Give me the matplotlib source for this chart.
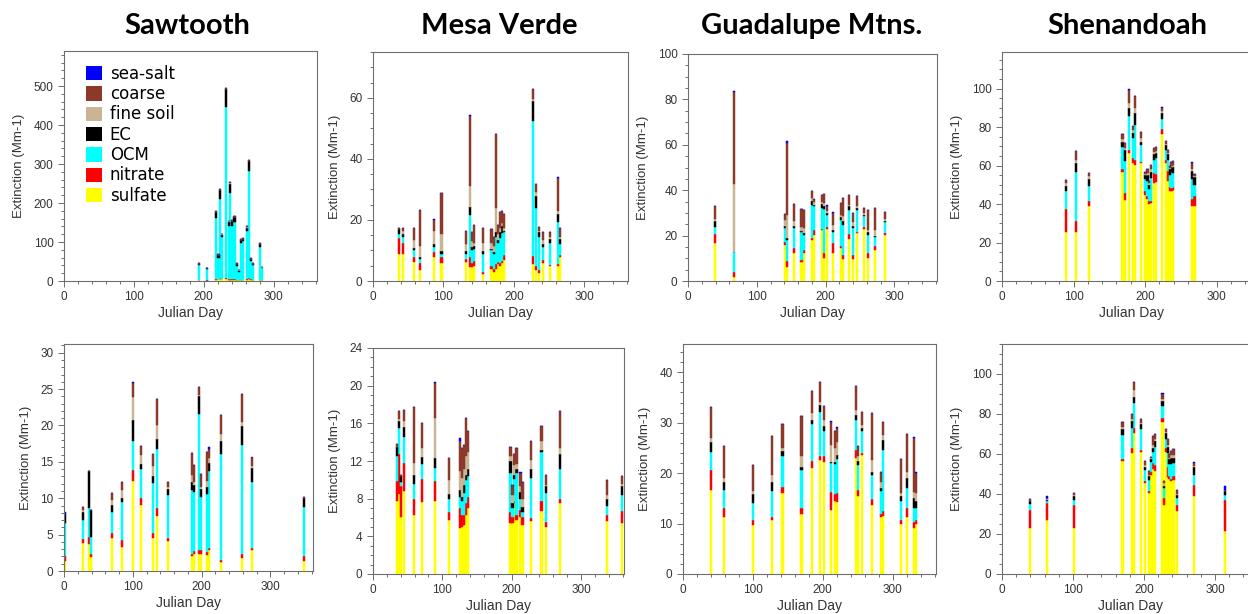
import numpy as np
import matplotlib
matplotlib.use("Agg")
import matplotlib.pyplot as plt
from matplotlib.patches import Patch
from matplotlib.ticker import MultipleLocator

# ---------------- data ----------------
COMPONENTS = ["sulfate", "nitrate", "OCM", "EC", "fine soil", "coarse", "sea-salt"]
COLORS = ["#FFFF00", "#FF0000", "#00FFFF", "#000000", "#C9B596", "#8B3A2A", "#0000FF"]
TITLES = ["Sawtooth", "Mesa Verde", "Guadalupe Mtns.", "Shenandoah"]

# Sawtooth (top row)
ST1_DAY = [193, 205, 217, 221, 223, 226, 232, 235.5, 238, 241, 244, 247, 250, 253, 256, 262, 265, 268, 271, 280, 283]
ST1_SULFATE = [1.5, 1, 3, 4, 6, 4, 5, 3, 3, 3, 3, 2, 2, 2, 2, 3, 5, 3, 2, 2, 1.5]
ST1_NITRATE = [0.5, 0.5, 1, 1, 2, 1, 2, 1, 1, 1, 1, 0.5, 0.5, 1, 1, 1, 2, 1, 0.5, 1, 0.5]
ST1_OCM = [38.5, 29, 157, 53.5, 203, 107.5, 440, 136, 221, 138, 147, 37, 21, 93.5, 98.5, 125, 275, 48.5, 38, 85.5, 30.5]
ST1_EC = [3, 2, 15, 8, 22, 6, 45, 12, 25, 12, 12, 4, 3, 8, 6, 8, 25, 4, 3, 6, 2]
ST1_SOIL = [0.5, 0.5, 1, 1, 1, 1, 1, 1, 1, 1, 1, 0.5, 0.5, 1, 1, 1, 1, 0.5, 0.5, 1, 0.5]
ST1_COARSE = [1, 1, 2, 1.5, 3, 1.5, 3, 2, 3, 2, 2, 1, 1, 1.5, 1.5, 2, 3, 1, 1, 1.5, 1]
ST1_SEASALT = [0] * 21

# Mesa Verde (top row)
MV1_DAY = [36.5, 42.7, 57.8, 66.9, 87.2, 97.2, 131.8, 137.6, 141, 144, 156.5, 168.3, 171.6, 174, 176.9, 179.7, 182.5, 185.4,
           226.6, 230.9, 236.1, 241.8, 250.8, 263.2, 265.5]
MV1_SULFATE = [9, 9, 6.2, 3.7, 7.7, 5.9, 6.2, 4.5, 4.5, 5, 2.4, 4, 3, 4, 5.5, 5, 6, 7, 5.5, 3.5, 2.5, 5.9, 4.8, 4.8, 7.7]
MV1_NITRATE = [5, 3.5, 1.7, 2.2, 1.8, 1.8, 1.1, 3.3, 1.5, 1.5, 0.6, 1, 1, 1.5, 0.8, 1, 0.7, 1.5, 2.6, 1.5, 1, 0.9, 0.3, 0.9, 0.7]
MV1_OCM = [1.5, 1.9, 2.4, 1.4, 1.7, 1.3, 1.7, 13.7, 4, 4, 6, 5, 5, 9, 6, 8, 9, 7.5, 44.3, 19, 11, 4.4, 7.2, 13.7, 3.6]
MV1_EC = [1.5, 1.1, 0.5, 0.6, 0.8, 0.9, 0.9, 2.7, 1, 1, 0.9, 0.5, 0.5, 1.5, 1.2, 2, 2.2, 0.5, 6.7, 4, 1.5, 0.8, 1.3, 2.7, 1.6]
MV1_SOIL = [0, 0.9, 2.6, 3.6, 4.4, 5.6, 2.1, 7, 2, 1, 2.4, 2, 2, 8, 1.8, 1.5, 1, 1, 0.5, 1.2, 0.5, 1.4, 0.8, 0.8, 0.8]
MV1_COARSE = [0.3, 1, 4, 11.7, 3.7, 13.4, 4.5, 23, 3.2, 6, 4.9, 4.5, 3, 24, 3, 5, 4, 4.6, 3.2, 2.5, 1.2, 2.7, 1.7, 10.9, 2.8]
MV1_SEASALT = [0, 0, 0, 0.2, 0.2, 0, 0, 0.3, 0, 0, 0, 0, 0, 0.3, 0, 0.2, 0, 0, 0, 0, 0, 0, 0, 0.2, 0]

# Guadalupe Mtns. (top row)
GM1_DAY = [39.8, 66.5, 141.7, 144.2, 153.9, 165, 168.4, 179.6, 183, 194.2, 197.6, 201.5, 210.7, 221.8, 225.2, 234.5,
           240.3, 246.1, 255.8, 261.2, 271.4, 286]
GM1_SULFATE = [16.7, 1.9, 15.9, 6.3, 12.2, 8.3, 12.2, 18.1, 20.4, 22.6, 10.0, 22.9, 12.2, 14.5, 9.6, 18.4, 9.6, 21.1, 22.9, 10.0, 13.7, 20.4]
GM1_NITRATE = [3.9, 2.2, 1.1, 2.3, 2.3, 1.0, 1.5, 0.8, 2.2, 0.3, 2.2, 1.1, 4.5, 0.7, 1.9, 2.4, 1.9, 0.7, 0.7, 2.2, 1.5, 0.7]
GM1_OCM = [3.4, 8.6, 6.3, 9.5, 8.8, 12.1, 6.7, 14.7, 10.3, 9.3, 19.5, 5.2, 5.1, 11.8, 13.3, 10.6, 11.8, 9.6, 4.9, 8.2, 4.4, 4.7]
GM1_EC = [2.5, 0.2, 1.0, 0.8, 1.0, 0.7, 0.7, 1.8, 0.7, 1.7, 1.2, 0.7, 0.5, 1.0, 1.5, 1.5, 1.0, 0.8, 0.4, 1.0, 0.3, 0.7]
GM1_SOIL = [0.8, 29.8, 2.7, 10.3, 2.0, 1.6, 2.2, 1.2, 1.1, 0.9, 1.5, 0.8, 2.5, 1.2, 2.2, 0.7, 1.5, 0.7, 1.0, 1.2, 2.7, 0.8]
GM1_COARSE = [5.9, 40.5, 2.6, 31.8, 7.8, 8.0, 7.8, 2.9, 1.4, 3.3, 4.1, 2.2, 5.1, 5.2, 8.1, 4.2, 4.1, 4.4, 2.3, 8.8, 9.6, 2.9]
GM1_SEASALT = [0, 0.6, 0, 0.7, 0, 0, 0, 0, 0, 0, 0, 0.4, 0.3, 0, 0, 0, 0.2, 0, 0, 0, 0, 0]

# Shenandoah (top row)
SH1_DAY = [90, 104, 121.2, 168.5, 171.6, 177.2, 183.2, 186.3, 194.4, 200.5, 203.3, 205.8, 208.4, 212.1, 214.9, 223.8,
           229.4, 232.2, 234.6, 236.9, 239.1, 265.7, 269]
SH1_SULFATE = [25.7, 25.7, 39.1, 56.5, 42, 66.6, 61.4, 60.5, 61.4, 44.9, 42.6, 40, 40.5, 51, 51.5, 76.2, 61.4, 52, 47, 47, 47.5, 39.1, 38.8]
SH1_NITRATE = [11.7, 5.3, 2.3, 1.8, 3.8, 1.7, 2.3, 2.6, 0.5, 2, 1.4, 1.8, 1.2, 5, 4, 2.6, 1.7, 5, 2, 1.5, 1.5, 3.5, 5.5]
SH1_OCM = [9.2, 25.7, 7.8, 11.4, 16.5, 17.4, 10.7, 18, 9, 6, 8, 6, 12, 7, 8.5, 5.2, 5.2, 6, 6, 8, 7, 10.4, 5.8]
SH1_EC = [2.6, 4.7, 3.8, 2.6, 5.7, 4.4, 2.5, 6, 1.5, 2, 3, 2, 3, 3, 2.5, 3.5, 2.6, 3, 3, 3, 3.5, 4, 4]
SH1_SOIL = [1.5, 1.4, 1.4, 1.3, 1, 2.5, 1.5, 3, 2, 0.6, 1, 1, 1.5, 1, 1, 0.8, 0.5, 0.5, 0.5, 0.5, 0.8, 1.2, 0.5]
SH1_COARSE = [2, 4.7, 1.8, 2.6, 2.5, 6.5, 2.1, 6.1, 3.2, 1, 2.3, 1, 2.3, 2.2, 2.1, 1.8, 1.3, 1.8, 1.5, 2, 2, 3.2, 1.2]
SH1_SEASALT = [0, 0, 0, 0, 0, 0.6, 0, 0, 0, 0, 0, 0, 0, 0, 0, 0.3, 0, 0, 0, 0, 0.3, 0.3, 0]

# Sawtooth (bottom row)
ST2_DAY = [1, 27.1, 36.8, 39.7, 69.2, 84.7, 99.7, 111.8, 129.7, 135.5, 151, 186.3, 189.2, 196, 198.8, 208, 211,
           227.9, 258.8, 273.8, 348.3]
ST2_SULFATE = [1.4, 3.8, 3.7, 1.9, 4.5, 3.3, 12.4, 9.1, 4.6, 7.5, 4.1, 2.1, 2.4, 2.4, 2.3, 2.2, 2.9, 1.2, 1.8, 2.9, 1.4]
ST2_NITRATE = [0.6, 0.6, 1.0, 0.5, 0.7, 0.9, 1.5, 1.0, 0.6, 1.1, 0.5, 0.3, 0.3, 0.5, 0.6, 0.4, 0.3, 0.3, 0.5, 0.2, 0.7]
ST2_OCM = [4.6, 2.6, 3.9, 2.3, 2.9, 5.3, 3.9, 3.9, 6.9, 8.1, 5.8, 8.7, 8.2, 18.7, 7.3, 8.0, 10.5, 14.6, 15.0, 9.2, 6.7]
ST2_EC = [1.3, 1.1, 5.2, 3.7, 1.0, 0.6, 2.9, 0.7, 1.0, 1.5, 0.9, 1.2, 0.9, 2.4, 1.1, 1.0, 1.1, 1.7, 2.6, 1.8, 1.2]
ST2_SOIL = [0, 0.3, 0, 0, 0.7, 1.0, 3.2, 1.3, 1.4, 1.9, 0.3, 0.9, 0.5, 0.2, 0.3, 0.8, 0.7, 1.0, 0.6, 0.3, 0]
ST2_COARSE = [0, 0.4, 0, 0, 0.9, 1.1, 2.0, 1.2, 1.6, 3.5, 0.7, 3.0, 2.3, 1.1, 1.7, 3.9, 1.3, 2.7, 3.8, 1.2, 0.2]
ST2_SEASALT = [0.2, 0, 0, 0, 0, 0.1, 0.1, 0, 0, 0, 0, 0, 0, 0, 0, 0, 0.2, 0, 0, 0, 0]

# Mesa Verde (bottom row)
MV2_DAY = [35, 37.9, 40.8, 44.2, 59, 71, 89.3, 110, 125.3, 128.2, 131, 134.4, 137.3, 198.3, 201.2, 204, 207, 212.7,
           215.6, 228, 243, 249.2, 269.8, 337, 359]
MV2_SULFATE = [7.8, 8.5, 6.1, 8.8, 6.3, 7.6, 7.8, 5.7, 4.9, 5.0, 5.2, 6.3, 7.0, 5.4, 5.4, 7.5, 5.7, 6.1, 5.2, 5.6, 6.7, 5.0, 7.5, 5.6, 5.4]
MV2_NITRATE = [2.1, 4.2, 3.2, 3.0, 1.7, 2.5, 2.1, 0.9, 2.1, 1.3, 1.1, 1.2, 1.2, 1.2, 0.7, 0.3, 0.6, 0.7, 0.9, 0.4, 1.0, 0.5, 0.5, 0.7, 1.3]
MV2_OCM = [2.6, 2.8, 0.5, 2.8, 1.6, 1.6, 1.4, 1.4, 1.2, 1.4, 2.3, 2.5, 2.2, 4.1, 0.9, 2.3, 4.4, 1.2, 0.5, 4.2, 5.3, 3.1, 3.2, 0.9, 1.7]
MV2_EC = [1.0, 0.8, 0.6, 1.0, 0.9, 0.7, 1.0, 0.5, 0.7, 0.5, 0.9, 0.5, 0.8, 1.3, 0.5, 0.4, 0.5, 0.7, 0.5, 1.0, 0.2, 0.7, 1.5, 0.8, 0.9]
MV2_SOIL = [0, 0.2, 0, 0.6, 1.3, 1.0, 4.3, 1.5, 2.0, 2.0, 1.6, 2.0, 1.8, 0.5, 0.9, 1.1, 0.5, 0.6, 0.9, 0.9, 0.9, 0.2, 0.7, 0.4, 0.3]
MV2_COARSE = [0.3, 0.8, 0.1, 1.2, 5.9, 2.6, 3.7, 2.3, 3.2, 3.2, 2.6, 4.1, 2.2, 1.0, 1.1, 1.1, 1.7, 1.4, 1.8, 2.0, 1.6, 1.0, 3.9, 1.6, 0.8]
MV2_SEASALT = [0, 0, 0, 0, 0, 0, 0.1, 0, 0.3, 0, 0, 0, 0, 0, 0, 0, 0, 0.1, 0, 0, 0, 0, 0, 0, 0]

# Guadalupe Mtns. (bottom row)
GM2_DAY = [40.6, 58.3, 100.3, 127.6, 142.4, 169.6, 184, 195.9, 202.1, 211.2, 217.4, 220.3, 247, 249.9, 255.6, 270.4,
           283.8, 285.7, 312, 321, 330.6, 333.5]
GM2_SULFATE = [16.6, 11.3, 9.7, 10.7, 16.0, 11.9, 21.0, 22.6, 22.2, 12.7, 14.4, 14.3, 23.0, 15.4, 23.5, 13.6, 11.4, 11.5, 9.9, 11.4, 9.1, 10.0]
GM2_NITRATE = [4.1, 1.7, 1.0, 0.7, 1.2, 1.1, 1.5, 0.7, 1.1, 3.5, 1.4, 1.8, 1.6, 1.3, 0.5, 1.3, 0.5, 1.0, 0.8, 1.6, 1.3, 0.7]
GM2_OCM = [3.5, 3.7, 3.3, 5.0, 6.1, 7.7, 7.2, 8.8, 5.0, 5.8, 6.0, 6.7, 6.0, 5.0, 4.3, 4.8, 4.6, 12.0, 3.7, 4.0, 2.6, 2.3]
GM2_EC = [2.0, 1.6, 1.9, 1.9, 1.0, 0.6, 0.9, 1.5, 1.0, 0.3, 0.5, 0.8, 1.0, 0.8, 0.6, 0.6, 0.5, 2.0, 1.1, 2.0, 2.0, 1.4]
GM2_SOIL = [0.8, 0.7, 0.5, 1.4, 0.7, 2.0, 1.3, 0.6, 1.3, 3.3, 2.6, 2.5, 1.0, 0.8, 0.6, 2.3, 1.3, 1.0, 0.5, 1.3, 1.2, 1.6]
GM2_COARSE = [6.1, 6.3, 5.3, 7.6, 4.7, 8.0, 4.3, 3.8, 2.8, 4.5, 3.4, 2.8, 4.6, 2.0, 2.6, 9.3, 2.0, 2.6, 6.8, 7.5, 10.8, 4.0]
GM2_SEASALT = [0, 0, 0, 0, 0, 0, 0, 0, 0, 0.3, 0, 0.2, 0, 0, 0, 0, 0, 0, 0, 0, 0.2, 0.2]

# Shenandoah (bottom row)
SH2_DAY = [39.8, 63.3, 101.7, 169.7, 182.8, 186.5, 195.9, 201.6, 207.2, 210, 213.3, 216.1, 226, 228.3, 230.7, 233.5,
           235.8, 238.2, 241.5, 246.1, 270.5, 314]
SH2_SULFATE = [23.0, 27.1, 23.0, 56.4, 60.3, 70.4, 61.0, 45.6, 40.5, 49.7, 52.3, 51.5, 76.2, 34.7, 61.0, 48.6, 47.5, 46.4, 47.2, 31.3, 38.9, 21.3]
SH2_NITRATE = [9.2, 8.4, 11.7, 0.9, 2.8, 2.8, 1.0, 0.8, 1.2, 1.3, 3.3, 3.0, 2.0, 3.3, 2.0, 5.0, 1.5, 1.1, 1.7, 3.4, 5.8, 15.9]
SH2_OCM = [2.8, 0.8, 2.5, 12.0, 10.0, 12.2, 10.7, 5.5, 5.5, 5.0, 5.4, 9.0, 5.9, 5.0, 4.5, 6.7, 6.0, 7.3, 6.7, 3.3, 5.0, 2.5]
SH2_EC = [1.3, 0.9, 1.7, 3.1, 3.5, 2.9, 2.2, 1.7, 1.7, 1.5, 2.1, 3.0, 2.5, 1.0, 3.0, 3.4, 2.5, 3.3, 2.5, 1.7, 3.7, 2.0]
SH2_SOIL = [0.2, 0.2, 0.4, 1.2, 1.0, 3.8, 0.5, 0.8, 0.8, 0.3, 1.5, 1.0, 1.0, 1.4, 0.7, 1.0, 0.5, 1.5, 1.5, 0.5, 0.7, 0]
SH2_COARSE = [1.0, 0.5, 1.2, 2.2, 2.6, 3.7, 2.0, 2.0, 1.7, 0.8, 4.4, 2.3, 2.4, 1.0, 1.2, 3.0, 1.8, 1.9, 2.7, 2.0, 1.5, 0.5]
SH2_SEASALT = [0, 1.3, 0, 0.2, 0, 0, 0, 0, 0, 0, 0, 0, 0.3, 0, 0, 0, 0, 0, 0.3, 0, 0.3, 2.0]

# ---------------- layout ----------------
W, H = 1248, 614
fig = plt.figure(figsize=(W / 100, H / 100), dpi=100)

def axes_px(left, top, right, bottom):
    return fig.add_axes([left / W, 1 - bottom / H, (right - left) / W, (bottom - top) / H])

panels = [
    # (axes px box, data, ylim, major, minor)
    ((64, 51, 317, 281), (ST1_DAY, ST1_SULFATE, ST1_NITRATE, ST1_OCM, ST1_EC, ST1_SOIL, ST1_COARSE, ST1_SEASALT), 590, 100, 20),
    ((373, 52, 628, 281), (MV1_DAY, MV1_SULFATE, MV1_NITRATE, MV1_OCM, MV1_EC, MV1_SOIL, MV1_COARSE, MV1_SEASALT), 75, 20, 5),
    ((688, 54, 937, 281), (GM1_DAY, GM1_SULFATE, GM1_NITRATE, GM1_OCM, GM1_EC, GM1_SOIL, GM1_COARSE, GM1_SEASALT), 100, 20, 5),
    ((1002, 52, 1261, 281), (SH1_DAY, SH1_SULFATE, SH1_NITRATE, SH1_OCM, SH1_EC, SH1_SOIL, SH1_COARSE, SH1_SEASALT), 119, 20, 5),
    ((64, 344, 313, 571), (ST2_DAY, ST2_SULFATE, ST2_NITRATE, ST2_OCM, ST2_EC, ST2_SOIL, ST2_COARSE, ST2_SEASALT), 31.2, 5, 1),
    ((373, 348, 624, 574), (MV2_DAY, MV2_SULFATE, MV2_NITRATE, MV2_OCM, MV2_EC, MV2_SOIL, MV2_COARSE, MV2_SEASALT), 24, 4, 1),
    ((683, 344, 936, 574), (GM2_DAY, GM2_SULFATE, GM2_NITRATE, GM2_OCM, GM2_EC, GM2_SOIL, GM2_COARSE, GM2_SEASALT), 45.6, 10, 2),
    ((1002, 344, 1259, 574), (SH2_DAY, SH2_SULFATE, SH2_NITRATE, SH2_OCM, SH2_EC, SH2_SOIL, SH2_COARSE, SH2_SEASALT), 115, 20, 5),
]

TICK_FONT = "Liberation Sans"
GRAY = "#6e6e6e"
axes = []
for box, data, ytop, major, minor in panels:
    ax = axes_px(*box)
    axes.append(ax)
    days = np.array(data[0], dtype=float)
    bottom = np.zeros(len(days))
    for comp_vals, color in zip(data[1:], COLORS):
        vals = np.array(comp_vals, dtype=float)
        ax.bar(days, vals, width=3.0, bottom=bottom, color=color, edgecolor=color, linewidth=0.35)
        bottom += vals
    ax.set_xlim(0, 362)
    ax.set_ylim(0, ytop)
    ax.xaxis.set_major_locator(MultipleLocator(100))
    ax.xaxis.set_minor_locator(MultipleLocator(20))
    ax.yaxis.set_major_locator(MultipleLocator(major))
    ax.yaxis.set_minor_locator(MultipleLocator(minor))
    ax.tick_params(which="both", direction="out", color=GRAY, labelcolor="#333333", labelsize=8.5, width=0.7)
    ax.tick_params(which="major", length=4)
    ax.tick_params(which="minor", length=2)
    for lab in ax.get_xticklabels() + ax.get_yticklabels():
        lab.set_fontfamily(TICK_FONT)
    for sp in ax.spines.values():
        sp.set_color(GRAY)
        sp.set_linewidth(0.8)
    ax.set_xlabel("Julian Day", fontsize=10, color="#333333", family=TICK_FONT, labelpad=2)
    ax.set_ylabel("Extinction (Mm-1)", fontsize=9.5, color="#333333", family=TICK_FONT, labelpad=6)
    ax.set_facecolor("white")

# legend in first panel (top to bottom: sea-salt ... sulfate)
handles = [Patch(facecolor=c, edgecolor="none", label=n) for n, c in zip(COMPONENTS[::-1], COLORS[::-1])]
axes[0].legend(handles=handles, loc="upper left", bbox_to_anchor=(0.085, 0.94), frameon=False,
               prop={"family": "DejaVu Sans", "size": 12}, handlelength=1.0, handleheight=0.95,
               handletextpad=0.45, labelspacing=0.14, borderpad=0, borderaxespad=0)

# column titles
for title, xc in zip(TITLES, [187, 499, 812, 1127]):
    fig.text(xc / W, 1 - 26 / H, title, ha="center", va="center", fontsize=21, fontweight="bold",
             family=["Lato", "DejaVu Sans"], color="black")

fig.savefig("out.png", dpi=100, facecolor="white")
